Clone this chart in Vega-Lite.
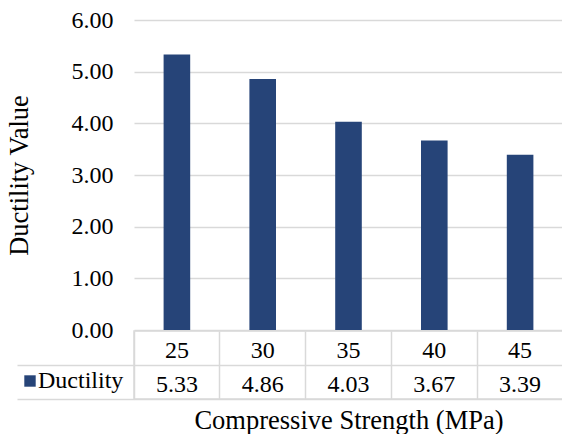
{
  "$schema": "https://vega.github.io/schema/vega-lite/v6.json",
  "padding": {"left": 6, "top": 8, "right": 0, "bottom": 0},
  "bounds": "flush",
  "spacing": 1,
  "config": {
    "font": "Liberation Serif",
    "view": {"stroke": null},
    "text": {"font": "Liberation Serif"},
    "axis": {"labelFont": "Liberation Serif", "titleFont": "Liberation Serif", "labelColor": "#000000", "titleColor": "#000000", "titleFontWeight": "normal"},
    "legend": {"labelFont": "Liberation Serif", "labelColor": "#000000"}
  },
  "data": {"values": [
    {"strength": "25", "series": "Ductility", "value": 5.33},
    {"strength": "30", "series": "Ductility", "value": 4.86},
    {"strength": "35", "series": "Ductility", "value": 4.03},
    {"strength": "40", "series": "Ductility", "value": 3.67},
    {"strength": "45", "series": "Ductility", "value": 3.39}
  ]},
  "vconcat": [
    {
      "width": 429,
      "height": 310,
      "mark": {"type": "bar", "width": {"band": 0.31}},
      "encoding": {
        "x": {"field": "strength", "type": "ordinal", "sort": null, "scale": {"type": "band", "paddingInner": 0, "paddingOuter": 0}, "axis": null},
        "y": {"field": "value", "type": "quantitative", "scale": {"domain": [0, 6], "nice": false},
          "axis": {"values": [0, 1, 2, 3, 4, 5, 6], "format": ".2f", "title": "Ductility Value", "grid": true, "gridColor": "#d9d9d9", "gridWidth": 1.5, "domain": false, "ticks": false, "labelPadding": 21, "labelFontSize": 24, "titleFontSize": 26.5, "titlePadding": 38}},
        "color": {"field": "series", "type": "nominal", "scale": {"range": ["#264478"]},
          "legend": {"orient": "none", "legendX": -122, "legendY": 343, "title": null, "symbolType": "square", "symbolSize": 130, "symbolStrokeWidth": 0, "labelFontSize": 24, "labelOffset": -4, "padding": 6}}
      }
    },
    {
      "width": 429,
      "height": 68,
      "view": {"stroke": "#d9d9d9", "strokeWidth": 1.5},
      "layer": [
        {
          "mark": {"type": "text", "fontSize": 24, "color": "#000000", "dy": 3},
          "encoding": {
            "x": {"field": "strength", "type": "ordinal", "sort": null, "scale": {"type": "band", "paddingInner": 0, "paddingOuter": 0},
              "axis": {"orient": "bottom", "labels": false, "ticks": false, "domain": false, "grid": true, "bandPosition": 0, "gridColor": "#d9d9d9", "gridWidth": 1.5, "title": "Compressive Strength (MPa)", "titleFontSize": 26.5, "titlePadding": 8}},
            "y": {"datum": "cat", "type": "nominal", "scale": {"type": "band", "domain": ["cat", "val"], "paddingInner": 0, "paddingOuter": 0},
              "axis": {"labels": false, "domain": false, "ticks": true, "tickSize": 117, "tickColor": "#d9d9d9", "tickWidth": 1.5, "grid": true, "gridColor": "#d9d9d9", "gridWidth": 1.5, "bandPosition": 1, "title": null}},
            "text": {"field": "strength", "type": "nominal"}
          }
        },
        {
          "mark": {"type": "text", "fontSize": 24, "color": "#000000", "dy": 3},
          "encoding": {
            "x": {"field": "strength", "type": "ordinal", "sort": null},
            "y": {"datum": "val", "type": "nominal"},
            "text": {"field": "value", "type": "quantitative", "format": ".2f"}
          }
        }
      ]
    }
  ]
}
